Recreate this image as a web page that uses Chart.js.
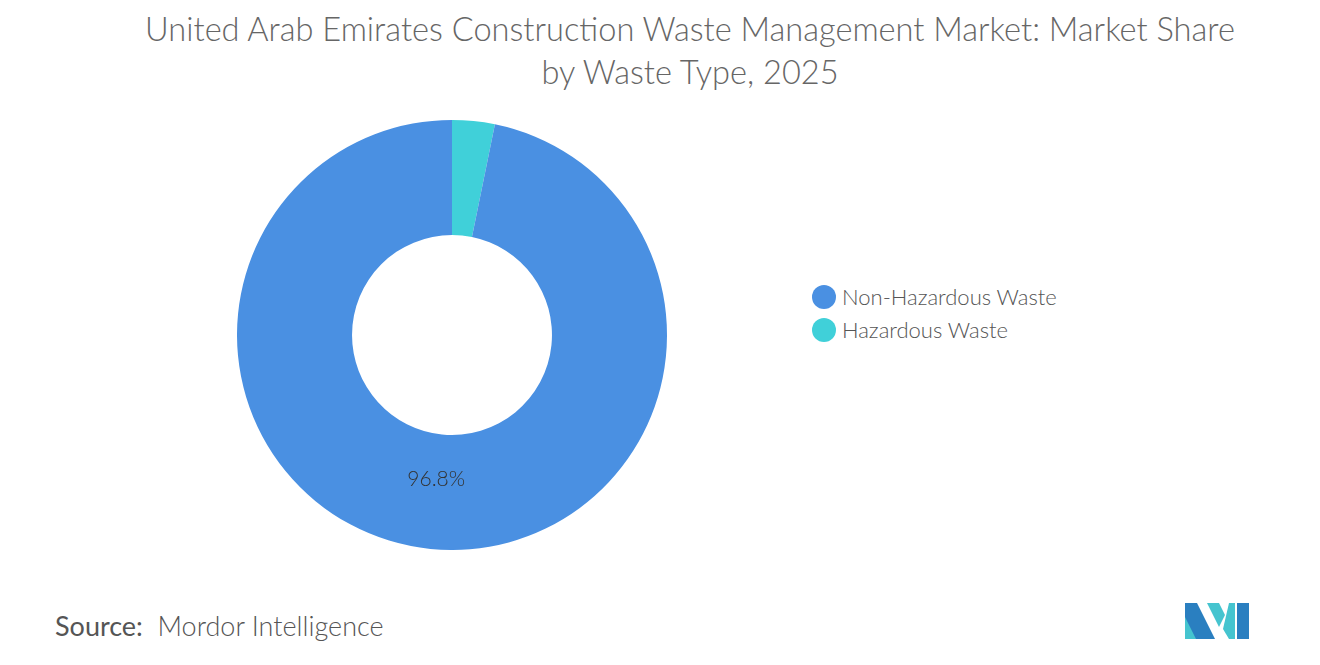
<!DOCTYPE html>
<html>
<head>
<meta charset="utf-8">
<script src="https://cdn.jsdelivr.net/npm/chart.js@4"></script>
<style>
  body { margin: 0; width: 1320px; height: 665px; background: #fff; font-family: Lato, "Open Sans", sans-serif; position: relative; overflow: hidden; }
  #title { position: absolute; left: 0; width: 1380px; top: 7px; text-align: center; color: #666; font-size: 32.6px; font-weight: 300; line-height: 43px; }
  #wrap { position: absolute; left: 237px; top: 120px; width: 430px; height: 430px; }
  #legend { position: absolute; left: 812px; top: 280px; font-size: 22px; font-weight: 300; color: #555; }
  #legend div { height: 33px; display: flex; align-items: center; }
  #legend span { display: inline-block; width: 24px; height: 24px; border-radius: 50%; margin-right: 6px; }
  #source { position: absolute; left: 55px; top: 609px; font-size: 27px; font-weight: 300; color: #555; }
  #source b { font-weight: 400; }
  #logo { position: absolute; left: 1185px; top: 603px; }
</style>
</head>
<body>
<div id="title">United Arab Emirates Construction Waste Management Market: Market Share<br>by Waste Type, 2025</div>
<div id="wrap"><canvas id="pie"></canvas></div>
<div id="legend"></div>
<div id="source"><b>Source:</b>&nbsp; Mordor Intelligence</div>
<svg id="logo" width="64" height="36" viewBox="0 0 64 36">
  <polygon points="0,0 12,0 30,36 0,36" fill="#2a7fc0"/>
  <polygon points="0,14 11,36 0,36" fill="#45c4cf"/>
  <polygon points="22,0 34,0 40,12 34,24" fill="#45c4cf"/>
  <polygon points="44,0 50,0 50,36 44,36 38,26" fill="#45c4cf"/>
  <polygon points="52,0 64,0 64,36 52,36" fill="#2a7fc0"/>
</svg>
<script>
const categories = ["Non-Hazardous Waste", "Hazardous Waste"];
const shares = [96.8, 3.2];
const colors = ["#4a90e2", "#40d0d9"];

const legendEl = document.getElementById("legend");
categories.forEach((c, i) => {
  const row = document.createElement("div");
  row.innerHTML = `<span style="background:${colors[i]}"></span>${c}`;
  legendEl.appendChild(row);
});

// the small slice comes first clockwise from the top, as in the picture
const order = [1, 0];

const labelPlugin = {
  id: "sliceLabel",
  afterDatasetsDraw(chart) {
    const ctx = chart.ctx;
    const arc = chart.getDatasetMeta(0).data[order.indexOf(0)];
    const p = arc.tooltipPosition();
    ctx.save();
    ctx.font = "300 21px Lato, sans-serif";
    ctx.fillStyle = "#333";
    ctx.textAlign = "center";
    ctx.textBaseline = "middle";
    ctx.fillText(shares[0] + "%", p.x, p.y - 12);
    ctx.restore();
  }
};

new Chart(document.getElementById("pie"), {
  type: "doughnut",
  data: {
    labels: order.map(i => categories[i]),
    datasets: [{ data: order.map(i => shares[i]), backgroundColor: order.map(i => colors[i]), borderWidth: 0 }]
  },
  options: {
    responsive: true,
    maintainAspectRatio: false,
    animation: false,
    cutout: "46.5%",
    layout: { padding: 0 },
    plugins: { legend: { display: false }, tooltip: { enabled: false } }
  },
  plugins: [labelPlugin]
});
</script>
</body>
</html>
